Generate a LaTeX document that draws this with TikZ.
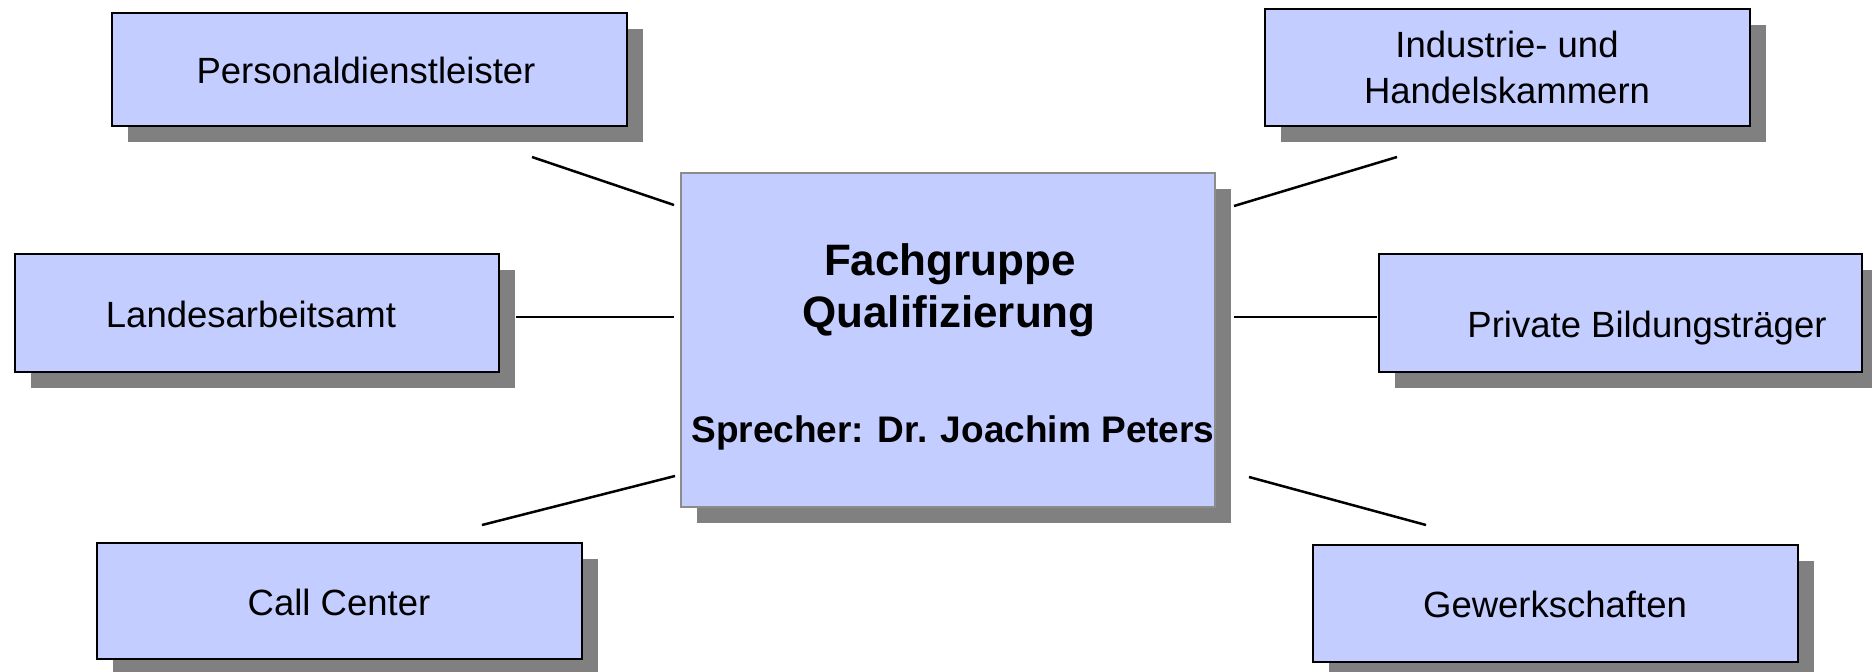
\documentclass[tikz,border=0pt]{standalone}
\usepackage{fontspec}
\setmainfont{Liberation Sans}
\usetikzlibrary{shadows}
\definecolor{boxfill}{RGB}{195,205,255}
\definecolor{shadowgray}{RGB}{128,128,128}
\definecolor{centerborder}{RGB}{140,140,140}
\begin{document}
\begin{tikzpicture}[x=1pt,y=-1pt,
  boxshape/.style={rectangle, draw=black, line width=2.5pt, fill=boxfill, inner sep=0pt, outer sep=0pt,
    drop shadow={shadow xshift=16pt, shadow yshift=-16pt, opacity=1, fill=shadowgray, draw=none}},
  centershape/.style={boxshape, draw=centerborder, line width=2pt},
  link/.style={draw=black, line width=2.5pt},
  lbl/.style={anchor=base, inner sep=0pt, font=\fontsize{36.5}{44}\selectfont},
  titlelbl/.style={anchor=base, inner sep=0pt, font=\fontsize{44}{52}\selectfont\bfseries},
  speakerlbl/.style={anchor=base, inner sep=0pt, font=\fontsize{37}{44}\selectfont\bfseries}]
\useasboundingbox[fill=white] (0,0) rectangle (1872,672);

% boxes
\node[boxshape, minimum width=515pt, minimum height=113pt] (P) at (369.5,69.5) {};
\node[boxshape, minimum width=485pt, minimum height=117pt] (I) at (1507.5,67.5) {};
\node[boxshape, minimum width=484pt, minimum height=118pt] (L) at (257,313) {};
\node[boxshape, minimum width=483pt, minimum height=118pt] (B) at (1620.5,313) {};
\node[boxshape, minimum width=485pt, minimum height=116pt] (C) at (339.5,601) {};
\node[boxshape, minimum width=485pt, minimum height=117pt] (G) at (1555.5,603.5) {};
\node[centershape, minimum width=534pt, minimum height=334pt] (M) at (948,340) {};

% labels
\node[lbl] (Pt) at (366,83) {Personaldienstleister};
\node[lbl] (It1) at (1507,57) {Industrie- und};
\node[lbl] (It2) at (1507,103) {Handelskammern};
\node[lbl] (Lt) at (251,327) {Landesarbeitsamt};
\node[lbl] (Bt) at (1647,337) {Private Bildungsträger};
\node[lbl] (Ct) at (339,615) {Call Center};
\node[lbl] (Gt) at (1555,617) {Gewerkschaften};
\node[titlelbl] (Mt1) at (950,275) {Fachgruppe};
\node[titlelbl] (Mt2) at (949,327) {Qualifizierung};
\node[speakerlbl] (Mt3) at (953,442) {Sprecher: Dr. Joachim Peters};

% connector end points
\coordinate (p1) at (532,157);  \coordinate (p2) at (674,205);
\coordinate (l1) at (516,317);  \coordinate (l2) at (674,317);
\coordinate (c1) at (482,525);  \coordinate (c2) at (675,476);
\coordinate (i1) at (1397,157); \coordinate (i2) at (1234,206);
\coordinate (b1) at (1377,317); \coordinate (b2) at (1234,317);
\coordinate (g1) at (1426,525); \coordinate (g2) at (1249,477);

\draw[link] (p1) -- (p2);
\draw[link] (l1) -- (l2);
\draw[link] (c1) -- (c2);
\draw[link] (i1) -- (i2);
\draw[link] (b1) -- (b2);
\draw[link] (g1) -- (g2);
\end{tikzpicture}
\end{document}
